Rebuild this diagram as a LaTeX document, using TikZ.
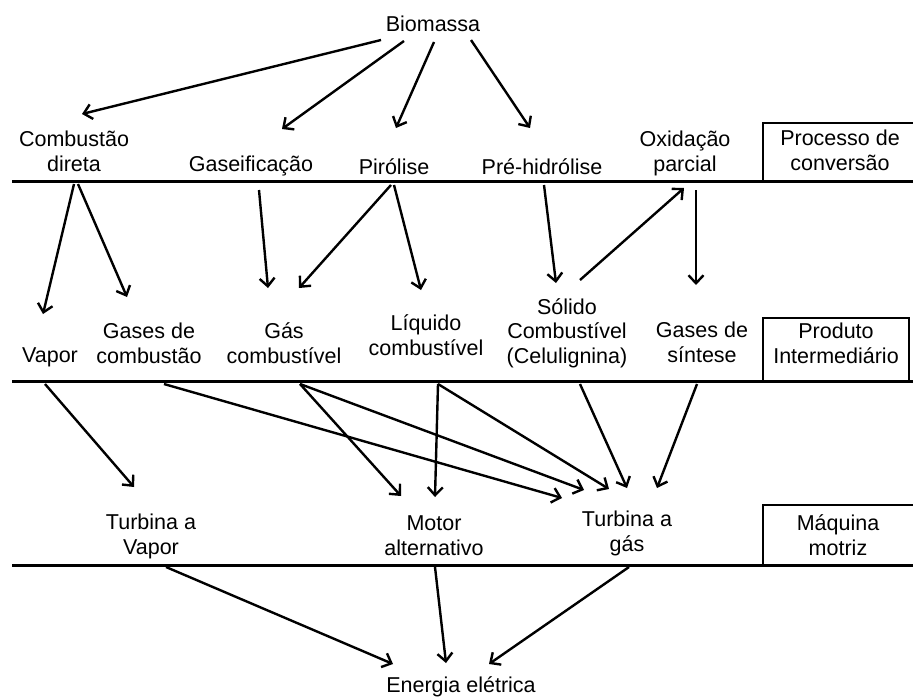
\documentclass[tikz,border=0pt]{standalone}
\usepackage{fontspec}
\setmainfont{Liberation Sans}
\usetikzlibrary{arrows.meta}
\begin{document}
\begin{tikzpicture}[x=1pt,y=-1pt,
  lbl/.style={font=\fontsize{21.5}{24.5}\selectfont, align=center, inner sep=0pt, anchor=base},
  arr/.style={line width=2.4pt, -{Straight Barb[length=8pt,width=15pt]}},
  rulel/.style={line width=3pt},
  tagbox/.style={line width=1.4pt}]
\useasboundingbox (0,0) rectangle (913,699);

% level boxes
\draw[tagbox] (763,123) rectangle (918,181);
\draw[tagbox] (763,318) rectangle (909,381);
\draw[tagbox] (763,505) rectangle (918,565);

% rule lines
\coordinate (r1a) at (12,181); \coordinate (r1b) at (913,181);
\coordinate (r2a) at (12,381); \coordinate (r2b) at (913,381);
\coordinate (r3a) at (12,565); \coordinate (r3b) at (913,565);
\draw[rulel] (r1a) -- (r1b);
\draw[rulel] (r2a) -- (r2b);
\draw[rulel] (r3a) -- (r3b);

% labels (base anchor = baseline of the last line)
\node[lbl] (bio)  at (433,31)  {Biomassa};
\node[lbl] (comb) at (74,171)  {Combustão\\direta};
\node[lbl] (gas)  at (251,171) {Gaseificação};
\node[lbl] (pir)  at (394,174) {Pirólise};
\node[lbl] (pre)  at (542,174) {Pré-hidrólise};
\node[lbl] (oxi)  at (685,171) {Oxidação\\parcial};
\node[lbl] (lab1) at (840,170) {Processo de\\conversão};

\node[lbl] (vap)   at (50,362)  {Vapor};
\node[lbl] (gcomb) at (149,363) {Gases de\\combustão};
\node[lbl] (gcb)   at (284,363) {Gás\\combustível};
\node[lbl] (liq)   at (426,355) {Líquido\\combustível};
\node[lbl] (sol)   at (567,363) {Sólido\\Combustível\\(Celulignina)};
\node[lbl] (sin)   at (702,362) {Gases de\\síntese};
\node[lbl] (lab2)  at (836,363) {Produto\\Intermediário};

\node[lbl] (tv)   at (151,554) {Turbina a\\Vapor};
\node[lbl] (mot)  at (434,555) {Motor\\alternativo};
\node[lbl] (tg)   at (627,551) {Turbina a\\gás};
\node[lbl] (lab3) at (838,555) {Máquina\\motriz};

\node[lbl] (ene) at (461,692) {Energia elétrica};

% connector end points
\coordinate (bio1) at (381,40);  \coordinate (comb-in) at (82,114);
\coordinate (bio2) at (404,41);  \coordinate (gas-in)  at (282,129);
\coordinate (bio3) at (434,42);  \coordinate (pir-in)  at (396,128);
\coordinate (bio4) at (471,40);  \coordinate (pre-in)  at (530,128);

\coordinate (comb-o1) at (74,184);  \coordinate (vap-in)   at (43,314);
\coordinate (comb-o2) at (78,184);  \coordinate (gcomb-in) at (127,297);
\coordinate (gas-o)   at (259,190); \coordinate (gcb-in1)  at (268,288);
\coordinate (pir-o1)  at (391,185); \coordinate (gcb-in2)  at (299,288);
\coordinate (pir-o2)  at (394,185); \coordinate (liq-in)   at (421,290);
\coordinate (pre-o)   at (544,185); \coordinate (sol-in)   at (556,283);
\coordinate (sol-up)  at (580,280); \coordinate (oxi-in)   at (684,188);
\coordinate (oxi-o)   at (696,190); \coordinate (sin-in)   at (696,285);

\coordinate (vap-o)   at (45,384);  \coordinate (tv-in)    at (134,487);
\coordinate (gcomb-o) at (164,384); \coordinate (tg-in1)   at (562,498);
\coordinate (gcb-o)   at (300,384); \coordinate (mot-in1)  at (401,496);
                                    \coordinate (tg-in2)   at (584,490);
\coordinate (liq-o)   at (438,384); \coordinate (mot-in2)  at (435,497);
                                    \coordinate (tg-in3)   at (609,489);
\coordinate (sol-o)   at (580,384); \coordinate (tg-in4)   at (627,488);
\coordinate (sin-o)   at (697,384); \coordinate (tg-in5)   at (657,488);

\coordinate (tv-o)  at (166,567); \coordinate (ene-in1) at (393,664);
\coordinate (mot-o) at (435,567); \coordinate (ene-in2) at (446,663);
\coordinate (tg-o)  at (629,567); \coordinate (ene-in3) at (489,664);

% connectors
\draw[arr] (bio1) -- (comb-in);
\draw[arr] (bio2) -- (gas-in);
\draw[arr] (bio3) -- (pir-in);
\draw[arr] (bio4) -- (pre-in);

\draw[arr] (comb-o1) -- (vap-in);
\draw[arr] (comb-o2) -- (gcomb-in);
\draw[arr] (gas-o) -- (gcb-in1);
\draw[arr] (pir-o1) -- (gcb-in2);
\draw[arr] (pir-o2) -- (liq-in);
\draw[arr] (pre-o) -- (sol-in);
\draw[arr] (sol-up) -- (oxi-in);
\draw[arr] (oxi-o) -- (sin-in);

\draw[arr] (vap-o) -- (tv-in);
\draw[arr] (gcomb-o) -- (tg-in1);
\draw[arr] (gcb-o) -- (mot-in1);
\draw[arr] (gcb-o) -- (tg-in2);
\draw[arr] (liq-o) -- (mot-in2);
\draw[arr] (liq-o) -- (tg-in3);
\draw[arr] (sol-o) -- (tg-in4);
\draw[arr] (sin-o) -- (tg-in5);

\draw[arr] (tv-o) -- (ene-in1);
\draw[arr] (mot-o) -- (ene-in2);
\draw[arr] (tg-o) -- (ene-in3);
\end{tikzpicture}
\end{document}
